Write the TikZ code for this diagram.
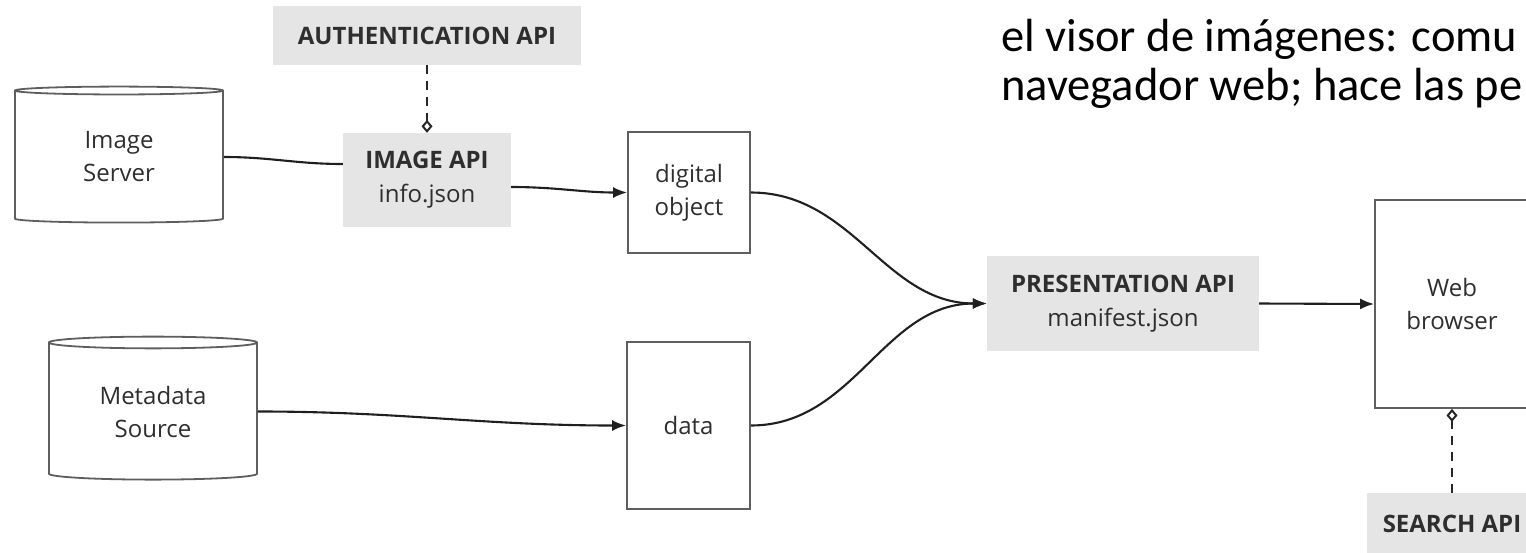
\documentclass[tikz,border=0pt]{standalone}
\usepackage{fontspec}
\setmainfont{Open Sans}
\newfontfamily\slidefont{Carlito}
\usetikzlibrary{shapes.geometric,arrows.meta}
\definecolor{apigray}{HTML}{E5E5E5}
\definecolor{edgegray}{HTML}{5E5E5E}
\definecolor{labelgray}{HTML}{2E2E2E}
\tikzstyle{node_api} = [rectangle, fill=apigray, text=labelgray, align=center, inner sep=0pt, font=\fontsize{24}{34}\selectfont]
\tikzstyle{node_box} = [rectangle, draw=edgegray, line width=1.8pt, text=labelgray, align=center, inner sep=0pt, font=\fontsize{24}{33}\selectfont]
\tikzstyle{node_db} = [cylinder, shape border rotate=90, aspect=0.11, draw=edgegray, line width=1.8pt, text=labelgray, align=center, inner sep=0pt, font=\fontsize{24}{33}\selectfont]
\tikzstyle{node_caption} = [anchor=base west, inner sep=0pt, font=\slidefont\fontsize{46.5}{50}\selectfont]
\tikzstyle{edge_normal} = [line width=2.1pt, black!88]
\tikzstyle{edge_arrow} = [edge_normal, -{Latex[length=14pt,width=11pt]}]
\tikzstyle{edge_link} = [line width=2.4pt, black!85, dash pattern=on 9pt off 7pt, {Diamond[open,length=13pt,width=11pt,line width=2pt]}-]

\begin{document}
\begin{tikzpicture}[x=1pt, y=-1pt]
\useasboundingbox (0,0) rectangle (1526,552);
\clip (0,0) rectangle (1526,552);
\node (caption_a) at (1001,51) [node_caption] {el visor de imágenes: comu};
\node (caption_b) at (1001,100) [node_caption] {navegador web; hace las pe};
\node (auth) at (427,35.5) [node_api, minimum width=308pt, minimum height=59pt] {\textbf{AUTHENTICATION API}};
\node (imgapi) at (427,180) [node_api, minimum width=168pt, minimum height=94pt] {\textbf{IMAGE API}\\info.json};
\node (imgsrv) at (119,157) [node_db, minimum width=208pt, minimum height=136pt] {Image\\Server};
\node (digobj) at (689,192.5) [node_box, minimum width=122pt, minimum height=121pt] {digital\\object};
\node (metasrc) at (153,411.5) [node_db, minimum width=208pt, minimum height=143pt] {Metadata\\Source};
\node (data) at (688.5,425.5) [node_box, minimum width=123pt, minimum height=167pt] {data};
\node (pres) at (1123,303.5) [node_api, minimum width=272pt, minimum height=95pt] {\textbf{PRESENTATION API}\\manifest.json};
\node (browser) at (1452,304) [node_box, minimum width=154pt, minimum height=208pt] {Web\\browser};
\node (search) at (1452,524) [node_api, minimum width=170pt, minimum height=62pt] {\textbf{SEARCH API}};
\draw[edge_normal] (imgsrv.east) to[out=0,in=180] ([yshift=16pt]imgapi.west);
\draw[edge_arrow] ([yshift=-7pt]imgapi.east) to[out=0,in=180] (digobj.west);
\draw[edge_arrow] (metasrc.east) to[out=0,in=180] (data.west);
\draw[edge_arrow] (digobj.east) to[out=0,in=180] (pres.west);
\draw[edge_arrow] (data.east) to[out=0,in=180] (pres.west);
\draw[edge_arrow] (pres.east) -- (browser.west);
\draw[edge_link] (imgapi.north) -- (auth.south);
\draw[edge_link] (browser.south) -- (search.north);
\end{tikzpicture}
\end{document}
